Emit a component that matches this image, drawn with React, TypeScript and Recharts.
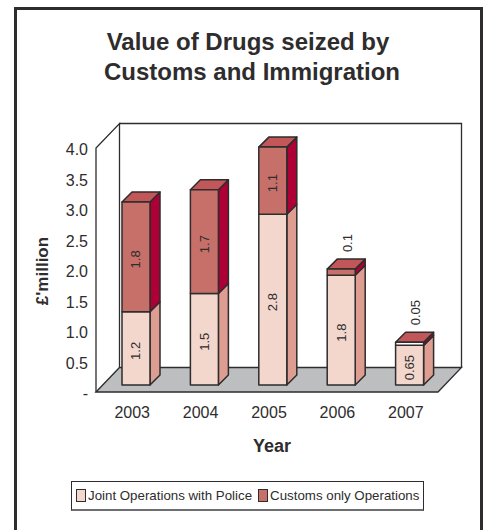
import React from "react";
import { BarChart, Bar, XAxis, YAxis, Legend, LabelList, ReferenceArea } from "recharts";

const years = ["2003", "2004", "2005", "2006", "2007"];
const jointOps = [1.2, 1.5, 2.8, 1.8, 0.65];
const customsOnly = [1.8, 1.7, 1.1, 0.1, 0.05];
const yTicks = [0, 0.5, 1, 1.5, 2, 2.5, 3, 3.5, 4];

const chartData = years.map((year, i) => ({
  year,
  joint: jointOps[i],
  customs: customsOnly[i],
}));

const FONT = "'Liberation Sans', Arial, sans-serif";
const INK = "#2e2c2d";

// 3D look: bars stand part way into the floor, walls sit behind them
const WALL_DEPTH = { x: 23.5, y: 24.5 };
const BAR_SHIFT = { x: 6, y: -7 };
const BAR_DEPTH = 10;

const JOINT = { front: "#f3d7cd", side: "#dd9d91", top: "#e8bdb0" };
const CUSTOMS = { front: "#c7706a", side: "#ae0036", top: "#c2575a" };

function Walls({ x, y, width, height }: any) {
  const bottom = y + height;
  const right = x + width;
  const dx = WALL_DEPTH.x;
  const dy = WALL_DEPTH.y;
  return (
    <g stroke={INK} strokeWidth={1.3} fill="none">
      <path
        d={`M${x},${bottom} L${x + dx},${bottom - dy} H${right + dx} L${right},${bottom} Z`}
        fill="#bcbec0"
      />
      <path d={`M${x},${bottom} V${y} L${x + dx},${y - dy} V${bottom - dy}`} />
      <path d={`M${x + dx},${y - dy} H${right + dx} V${bottom - dy}`} />
    </g>
  );
}

function Block({ x, y, width, height, colors, withTop }: any) {
  const fx = x + BAR_SHIFT.x;
  const fy = y + BAR_SHIFT.y;
  const d = BAR_DEPTH;
  const thin = height < 4;
  return (
    <g stroke={INK} strokeWidth={1.5} strokeLinejoin="round">
      <path
        d={`M${fx + width},${fy} l${d},${-d} v${height} l${-d},${d} Z`}
        fill={colors.side}
      />
      {withTop && (
        <path
          d={`M${fx},${fy} l${d},${-d} h${width} l${-d},${d} Z`}
          fill={colors.top}
        />
      )}
      <rect x={fx} y={fy} width={width} height={height} fill={thin ? "#ffffff" : colors.front} />
    </g>
  );
}

function ValueLabel({ x, y, width, height, value }: any) {
  // segments too short to hold a label get it above the bar
  const small = height < 10;
  const cx = x + BAR_SHIFT.x + width / 2 + (small ? 6 : 0);
  const cy = small ? y + BAR_SHIFT.y - 17 : y + BAR_SHIFT.y + height / 2 + 2.5;
  return (
    <text
      x={cx}
      y={cy}
      transform={`rotate(-90 ${cx} ${cy})`}
      textAnchor={small ? "start" : "middle"}
      dominantBaseline="central"
      fontFamily={FONT}
      fontSize={13}
      fill={INK}
    >
      {value}
    </text>
  );
}

function LegendBox({ payload }: any) {
  return (
    <div
      style={{
        boxSizing: "border-box",
        width: 353,
        height: 30,
        border: `1px solid ${INK}`,
        borderBottom: "2px solid #6d6e70",
        background: "#fff",
        display: "flex",
        alignItems: "center",
        paddingLeft: 4,
        fontFamily: FONT,
        fontSize: 13.3,
        color: INK,
        whiteSpace: "nowrap",
      }}
    >
      {(payload || []).map((entry: any) => (
        <span key={entry.value} style={{ display: "flex", alignItems: "center", marginRight: 6 }}>
          <span
            style={{
              boxSizing: "border-box",
              display: "inline-block",
              width: 10,
              height: 13,
              marginRight: 2,
              border: `1px solid ${INK}`,
              background: entry.color,
            }}
          />
          {entry.value}
        </span>
      ))}
    </div>
  );
}

export default function App() {
  return (
    <div
      style={{
        position: "absolute",
        left: 0,
        top: 0,
        width: 489,
        height: 530,
        background: "#fff",
        overflow: "hidden",
      }}
    >
      {/* frame has no bottom edge, it runs off the page */}
      <div
        style={{
          position: "absolute",
          left: 14,
          top: 7,
          width: 463,
          height: 530,
          border: `3px solid ${INK}`,
        }}
      />
      <BarChart
        width={489}
        height={530}
        data={chartData}
        margin={{ top: 148, right: 51, bottom: 108, left: 36 }}
        barSize={28}
        style={{ position: "absolute", left: 0, top: 0 }}
      >
        <text x={248} y={50} textAnchor="middle" fontFamily={FONT} fontWeight="bold" fontSize={24} fill={INK}>
          Value of Drugs seized by
        </text>
        <text x={252} y={80} textAnchor="middle" fontFamily={FONT} fontWeight="bold" fontSize={24} fill={INK}>
          Customs and Immigration
        </text>
        <ReferenceArea y1={0} y2={4} shape={<Walls />} ifOverflow="visible" />
        <XAxis
          dataKey="year"
          axisLine={false}
          tickLine={false}
          height={30}
          tickMargin={9}
          tick={{ fontFamily: FONT, fontSize: 16, fill: INK, dx: 2 }}
          label={{
            value: "Year",
            position: "bottom",
            offset: 17,
            dx: 5,
            style: { fontFamily: FONT, fontWeight: "bold", fontSize: 18, fill: INK },
          }}
        />
        <YAxis
          width={60}
          domain={[0, 4]}
          ticks={yTicks}
          axisLine={false}
          tickLine={false}
          tickMargin={2}
          tickFormatter={(v: number) => (v === 0 ? "-" : v.toFixed(1))}
          tick={{ fontFamily: FONT, fontSize: 16, fill: INK, dy: 1.5 }}
          label={{
            value: "£'million",
            angle: -90,
            position: "insideLeft",
            offset: 6,
            dy: 1,
            style: { fontFamily: FONT, fontWeight: "bold", fontSize: 17, fill: INK, textAnchor: "middle" },
          }}
        />
        <Legend
          layout="vertical"
          align="center"
          verticalAlign="middle"
          itemSorter={null}
          content={<LegendBox />}
          wrapperStyle={{ left: 71, top: 481, width: 353, height: 30 }}
        />
        <Bar
          dataKey="joint"
          name="Joint Operations with Police"
          stackId="ops"
          fill={JOINT.front}
          isAnimationActive={false}
          shape={(p: any) => <Block {...p} colors={JOINT} />}
        >
          <LabelList dataKey="joint" content={<ValueLabel />} />
        </Bar>
        <Bar
          dataKey="customs"
          name="Customs only Operations"
          stackId="ops"
          fill={CUSTOMS.front}
          isAnimationActive={false}
          shape={(p: any) => <Block {...p} colors={CUSTOMS} withTop />}
        >
          <LabelList dataKey="customs" content={<ValueLabel />} />
        </Bar>
      </BarChart>
    </div>
  );
}
